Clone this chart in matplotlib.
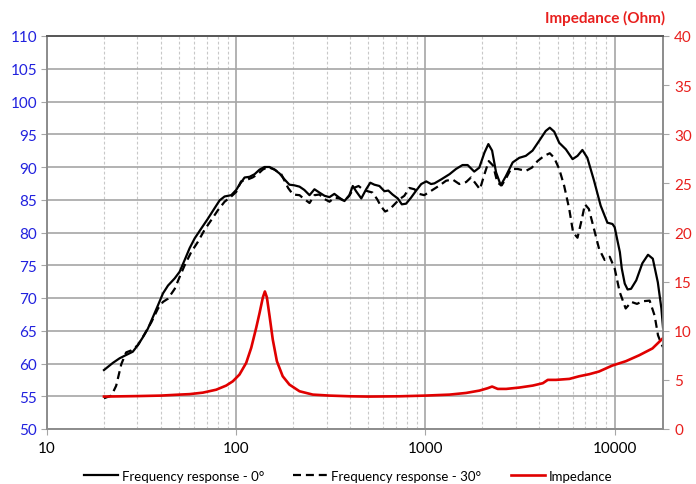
import matplotlib
matplotlib.use("Agg")
import matplotlib.pyplot as plt
from matplotlib.ticker import FixedLocator, FuncFormatter, NullFormatter

plt.rcParams['font.family'] = ['Lato', 'DejaVu Sans']

# ---- data ----
f0 = [20, 22.3, 24.2, 26.2, 28.4, 30.2, 32.1, 34.1, 36.3, 38.6, 41.0, 43.6, 47.3, 50.2, 53.4,
      56.7, 60.3, 65.3, 70.8, 76.8, 81.7, 86.8, 94.1, 100, 104, 110.7, 117.6, 125, 132.8, 141,
      150, 159.5, 169.5, 180, 191, 203, 216, 229, 244, 259, 275, 293, 311, 330, 351, 373, 396,
      413, 430, 458, 486, 511, 537, 571, 607, 636, 670, 714, 750, 790, 838, 893, 950, 1010,
      1070, 1115, 1210, 1340, 1450, 1570, 1670, 1810, 1925, 2050, 2150, 2250, 2360, 2500, 2660,
      2890, 3130, 3390, 3680, 3990, 4320, 4540, 4790, 5090, 5520, 5990, 6360, 6750, 7170, 7780,
      8430, 9150, 9730, 10000, 10300, 10650, 10900, 11300, 11700, 12200, 13000, 14000, 15000,
      15900, 16900, 17650, 18000]
spl0 = [59.0, 60.1, 60.8, 61.3, 61.8, 62.8, 64.0, 65.3, 67.1, 68.9, 70.7, 71.9, 73.0, 74.0, 75.8,
        77.6, 79.1, 80.6, 82.1, 83.7, 84.9, 85.5, 85.7, 86.5, 87.3, 88.4, 88.5, 88.9, 89.6, 90.0,
        90.0, 89.6, 89.0, 88.1, 87.3, 87.2, 87.0, 86.5, 85.7, 86.6, 86.1, 85.6, 85.4, 85.9, 85.3,
        84.8, 85.7, 87.1, 86.3, 85.2, 86.6, 87.6, 87.3, 87.1, 86.3, 86.4, 85.8, 85.2, 84.3, 84.4,
        85.3, 86.4, 87.4, 87.8, 87.4, 87.5, 88.1, 88.9, 89.7, 90.3, 90.3, 89.3, 89.9, 92.2, 93.5,
        92.5, 89.2, 87.2, 88.6, 90.7, 91.4, 91.7, 92.5, 94.0, 95.5, 96.0, 95.4, 93.7, 92.7, 91.2,
        91.7, 92.6, 91.4, 87.9, 84.1, 81.5, 81.3, 80.8, 79.0, 77.0, 74.5, 72.2, 71.3, 71.4, 72.7,
        75.3, 76.6, 76.0, 72.4, 68.4, 65.5]

f30 = [20, 21.9, 23.2, 24.7, 26.2, 27.9, 30.2, 32.8, 35.6, 38.6, 41.0, 43.6, 47.3, 50.2, 53.4,
       57.8, 62.8, 68.0, 73.8, 80.0, 86.8, 94.1, 100, 106, 115, 122, 130, 138, 147, 159.5, 173,
       188, 199.5, 216, 229, 244, 259, 275, 293, 311, 330, 351, 373, 396, 418, 443, 466, 495,
       525, 555, 582, 612, 645, 686, 730, 773, 822, 875, 925, 985, 1050, 1190, 1285, 1390, 1510,
       1640, 1740, 1850, 1940, 2050, 2160, 2280, 2400, 2530, 2680, 2830, 3070, 3390, 3650, 3910,
       4240, 4540, 4790, 5090, 5410, 5750, 6030, 6360, 6700, 6960, 7300, 7780, 8270, 8850, 9410,
       10000, 10630, 11430, 12250, 13120, 14000, 15300, 16260, 16940, 17650, 18000]
spl30 = [54.7, 55.1, 56.6, 59.9, 61.7, 62.0, 62.8, 64.5, 66.3, 68.4, 69.4, 69.9, 71.4, 73.2, 75.0,
         77.0, 78.6, 80.4, 81.9, 83.4, 84.7, 85.5, 86.2, 87.8, 88.1, 88.4, 88.9, 89.6, 90.0, 89.6,
         88.9, 86.8, 85.8, 85.7, 85.1, 84.5, 85.7, 85.8, 85.1, 84.7, 85.3, 85.2, 84.8, 85.6, 86.8,
         87.1, 86.6, 86.3, 86.1, 85.1, 84.0, 83.2, 83.5, 84.3, 85.1, 85.6, 86.8, 86.6, 85.9, 85.7,
         86.2, 87.2, 87.9, 88.1, 87.4, 87.7, 88.4, 87.4, 86.6, 88.9, 90.9, 90.2, 87.6, 87.2, 88.4,
         89.7, 89.7, 89.4, 89.9, 90.9, 91.7, 92.1, 91.4, 89.7, 87.1, 83.6, 80.0, 79.2, 82.0, 84.3,
         83.6, 80.5, 77.5, 75.8, 76.3, 74.5, 70.9, 68.4, 69.4, 69.1, 69.5, 69.6, 67.3, 64.3, 63.0,
         62.5]

fz = [20, 30, 40, 50, 56.7, 66.6, 78.4, 88.5, 96, 104, 112.9, 120, 127.5, 132.8, 138.3, 141.7,
      145.2, 150, 156, 164, 176, 191, 216, 254, 311, 400, 500, 729, 1000, 1340, 1640, 1930, 2130,
      2250, 2410, 2670, 3140, 3690, 4170, 4430, 4900, 5760, 6500, 7340, 8260, 9690, 11450, 13460,
      15830, 17900]
imp = [3.3, 3.35, 3.4, 3.5, 3.55, 3.7, 4.0, 4.42, 4.86, 5.54, 6.73, 8.26, 10.3, 11.8, 13.4, 14.0,
       13.4, 11.5, 9.1, 6.9, 5.37, 4.52, 3.84, 3.5, 3.4, 3.33, 3.3, 3.33, 3.4, 3.5, 3.67, 3.91, 4.15,
       4.32, 4.08, 4.08, 4.22, 4.42, 4.66, 5.0, 5.0, 5.1, 5.37, 5.58, 5.85, 6.45, 6.9, 7.5,
       8.2, 9.2]

x_major = [10, 100, 1000, 10000]
x_labels = ["10", "100", "1000", "10000"]
left_ticks = list(range(50, 111, 5))
right_ticks = list(range(0, 41, 5))

labels = ["Frequency response - 0°", "Frequency response - 30°", "Impedance"]

# ---- figure ----
fig = plt.figure(figsize=(6.96, 4.85), dpi=100)
ax = fig.add_axes([47/696, 1-430/485, (663-47)/696, (430-37)/485])
ax2 = ax.twinx()

blue = '#2121DE'
red = '#E8201E'
gridc = '#A6A6A6'

ax.set_xscale('log')
ax.set_xlim(10, 18000)
ax.set_ylim(50, 110)
ax2.set_ylim(0, 40)

ax.xaxis.set_major_locator(FixedLocator(x_major))
ax.xaxis.set_major_formatter(FuncFormatter(lambda v, p: x_labels[x_major.index(int(round(v)))] if int(round(v)) in x_major else ""))
minors = [m * d for d in [10, 100, 1000, 10000] for m in range(2, 10) if m * d <= 18000]
ax.xaxis.set_minor_locator(FixedLocator(minors))
ax.xaxis.set_minor_formatter(NullFormatter())
ax.set_yticks(left_ticks)
ax2.set_yticks(right_ticks)

ax.grid(True, which='major', axis='both', color=gridc, lw=1.2, ls='-')
ax.grid(True, which='minor', axis='x', color='#C8C8C8', lw=0.8, ls=(0, (2.5, 2)))
ax.set_axisbelow(True)

l1, = ax.plot(f0, spl0, color='black', lw=1.6, solid_joinstyle='round', zorder=3)
l2, = ax.plot(f30, spl30, color='black', lw=1.6, ls=(0, (3.6, 2.2)), zorder=3)
l3, = ax2.plot(fz, imp, color='#E00000', lw=1.9, zorder=2)

ax.tick_params(axis='y', which='major', direction='out', length=4, color=gridc,
               labelcolor=blue, labelsize=11, pad=3)
ax.tick_params(axis='x', which='major', direction='out', length=4, color=gridc,
               labelcolor='black', labelsize=11, pad=5)
ax.tick_params(axis='x', which='minor', length=0)
ax2.tick_params(axis='y', direction='out', length=4, color=gridc,
                labelcolor=red, labelsize=11, pad=4)

for a in (ax, ax2):
    for s in ['left', 'right', 'bottom']:
        a.spines[s].set_color('#8C8C8C')
        a.spines[s].set_linewidth(1.2)
    a.spines['top'].set_color('#595959')
    a.spines['top'].set_linewidth(1.4)

fig.text(665/696, 1-18/485, "Impedance (Ohm)", color=red, fontsize=11, fontweight='bold',
         ha='right', va='center')

fig.legend([l1, l2, l3], labels, loc='center', bbox_to_anchor=(0.5, 1-477/485),
           ncol=3, frameon=False, fontsize=9.5, handlelength=2.6, columnspacing=2.2,
           handletextpad=0.3, borderaxespad=0)

fig.savefig("out.png", dpi=100)
